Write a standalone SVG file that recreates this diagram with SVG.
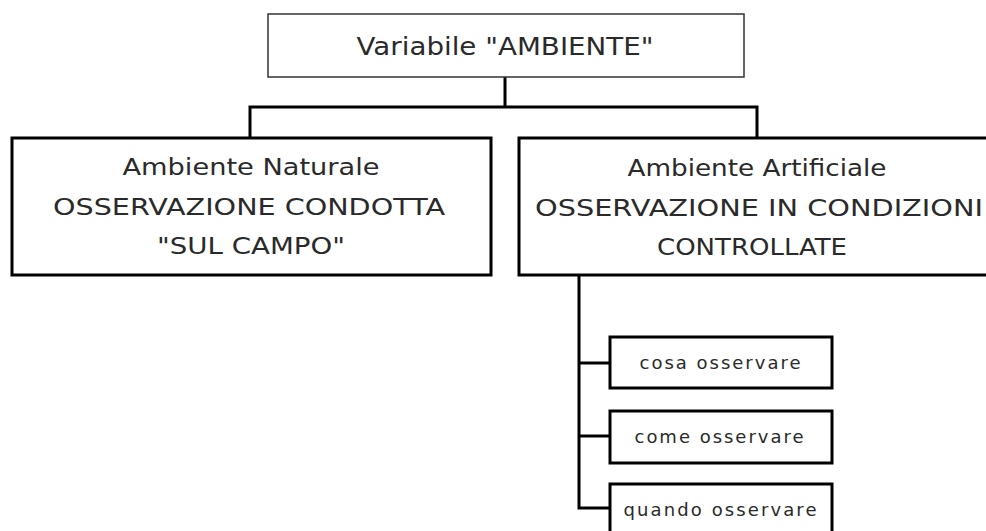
<svg xmlns="http://www.w3.org/2000/svg" width="986" height="531" viewBox="0 0 986 531">
<style>
.bg{fill:#fff}
.thin{fill:#fff;stroke:#333;stroke-width:1.5}
.box{fill:#fff;stroke:#000;stroke-width:3}
.conn{fill:none;stroke:#000;stroke-width:3}
.t{font-family:"DejaVu Sans","Liberation Sans",Arial,sans-serif;fill:#2a2a2a;text-anchor:middle}
.big{font-size:23px}
.top{font-size:25px}
.small{font-size:18px}
</style>
<rect class="bg" x="0" y="0" width="986" height="531"/>
<g id="connectors">
<path class="conn" d="M505,77 V107"/>
<path class="conn" d="M250,137 V107 H757 V137"/>
<path class="conn" d="M579,275 V508 H610"/>
<path class="conn" d="M579,363 H610"/>
<path class="conn" d="M579,436 H610"/>
</g>
<g id="node-top">
<rect class="thin" x="268" y="14" width="476" height="63"/>
<text class="t top" x="505" y="55" textLength="297" lengthAdjust="spacingAndGlyphs">Variabile "AMBIENTE"</text>
</g>
<g id="node-naturale">
<rect class="box" x="12" y="138" width="479" height="137"/>
<text class="t big" x="251" y="175" textLength="257" lengthAdjust="spacingAndGlyphs">Ambiente Naturale</text>
<text class="t big" x="249" y="215" textLength="392" lengthAdjust="spacingAndGlyphs">OSSERVAZIONE CONDOTTA</text>
<text class="t big" x="251" y="254" textLength="188" lengthAdjust="spacingAndGlyphs">"SUL CAMPO"</text>
</g>
<g id="node-artificiale">
<rect class="box" x="519" y="138" width="480" height="137"/>
<text class="t big" x="757" y="176" textLength="259" lengthAdjust="spacingAndGlyphs">Ambiente Artificiale</text>
<text class="t big" x="759" y="216" textLength="448" lengthAdjust="spacingAndGlyphs">OSSERVAZIONE IN CONDIZIONI</text>
<text class="t big" x="752" y="255" textLength="190" lengthAdjust="spacingAndGlyphs">CONTROLLATE</text>
</g>
<g id="node-cosa">
<rect class="box" x="610" y="337" width="222" height="51"/>
<text class="t small" x="720" y="369" textLength="161" lengthAdjust="spacing">cosa osservare</text>
</g>
<g id="node-come">
<rect class="box" x="610" y="411" width="222" height="52"/>
<text class="t small" x="719" y="443" textLength="169" lengthAdjust="spacing">come osservare</text>
</g>
<g id="node-quando">
<rect class="box" x="610" y="484" width="222" height="60"/>
<text class="t small" x="720" y="516" textLength="193" lengthAdjust="spacing">quando osservare</text>
</g>
</svg>
